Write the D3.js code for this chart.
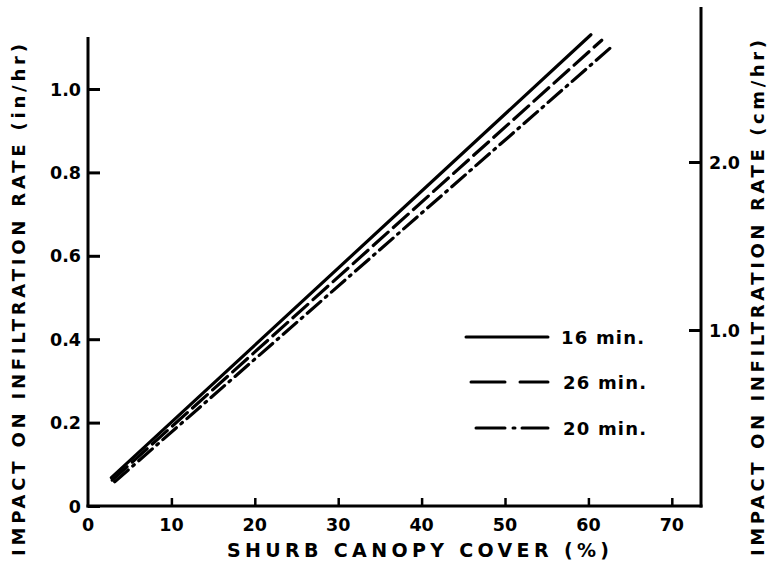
<!DOCTYPE html>
<html>
<head>
<meta charset="utf-8">
<script src="https://cdn.jsdelivr.net/npm/d3@7"></script>
<style>
  body { margin: 0; background: #fff; }
  svg { display: block; }
  text { font-family: "DejaVu Sans", sans-serif; font-weight: bold; fill: #000; }
</style>
</head>
<body>
<svg id="chart" width="778" height="564"></svg>
<script>
// Shrub canopy cover (%) at the start and end of each fitted line
const coverSolid = [2.8, 60.3];
const coverDashed = [2.9, 61.6];
const coverDashDot = [3.2, 63.0];

// Impact on infiltration rate (in/hr) at those cover values
const impact16 = [0.068, 1.13];
const impact26 = [0.062, 1.117];
const impact20 = [0.058, 1.105];

const seriesNames = ["16 min.", "26 min.", "20 min."];

const xTicks = [0, 10, 20, 30, 40, 50, 60, 70];
const yTicks = [0, 0.2, 0.4, 0.6, 0.8, 1.0];
const yTickLabels = ["0", "0.2", "0.4", "0.6", "0.8", "1.0"];
const cmTicks = [1.0, 2.0];
const cmTickLabels = ["1.0", "2.0"];

const svg = d3.select("#chart");

const x = d3.scaleLinear().domain([0, 73.5]).range([88, 701]);
const y = d3.scaleLinear().domain([0, 1]).range([506, 89]);
// secondary scale in cm/hr as drawn on the right-hand axis
const yCm = d3.scaleLinear().domain([1, 2]).range([330, 162]);

const strokeW = 3;

// left axis (in/hr)
const left = svg.append("g").attr("transform", `translate(${x(0)},0)`);
left.call(d3.axisRight(y).tickValues(yTicks).tickSize(12).tickFormat(""));
left.select(".domain").remove();
left.selectAll(".tick line").attr("stroke", "#000").attr("stroke-width", 3);
left.append("line")
  .attr("x1", 0).attr("x2", 0)
  .attr("y1", y(1.125)).attr("y2", y(0) + 1.5)
  .attr("stroke", "#000").attr("stroke-width", strokeW);
svg.append("g").selectAll("text").data(yTicks).join("text")
  .attr("x", 81).attr("y", d => y(d) + 6.5)
  .attr("text-anchor", "end")
  .attr("font-size", 17.5)
  .text((d, i) => yTickLabels[i]);

// bottom axis
const bottom = svg.append("g").attr("transform", `translate(0,${y(0)})`);
bottom.call(d3.axisTop(x).tickValues(xTicks.slice(1)).tickSize(8).tickFormat(""));
bottom.select(".domain").remove();
bottom.selectAll(".tick line").attr("stroke", "#000").attr("stroke-width", 2.5);
bottom.append("line")
  .attr("x1", x(0) - 1.5).attr("x2", x(73.5) + 1.5)
  .attr("y1", 0).attr("y2", 0)
  .attr("stroke", "#000").attr("stroke-width", strokeW);
svg.append("g").selectAll("text").data(xTicks).join("text")
  .attr("x", d => x(d)).attr("y", 531)
  .attr("text-anchor", "middle")
  .attr("font-size", 17.5)
  .text(d => d);

// right axis (cm/hr)
const right = svg.append("g").attr("transform", `translate(${x(73.5)},0)`);
right.call(d3.axisLeft(yCm).tickValues(cmTicks).tickSize(12).tickFormat(""));
right.select(".domain").remove();
right.selectAll(".tick line").attr("stroke", "#000").attr("stroke-width", 3);
right.append("line")
  .attr("x1", 0).attr("x2", 0)
  .attr("y1", 7).attr("y2", y(0) + 1.5)
  .attr("stroke", "#000").attr("stroke-width", strokeW);
svg.append("g").selectAll("text").data(cmTicks).join("text")
  .attr("x", 709).attr("y", d => yCm(d) + 6.5)
  .attr("text-anchor", "start")
  .attr("font-size", 17.5)
  .text((d, i) => cmTickLabels[i]);

// axis titles
svg.append("text")
  .attr("x", 227).attr("y", 557)
  .attr("font-size", 19)
  .attr("textLength", 382).attr("lengthAdjust", "spacing")
  .text("SHURB CANOPY COVER (%)");

svg.append("text")
  .attr("transform", "translate(25,556) rotate(-90)")
  .attr("font-size", 18)
  .attr("textLength", 512).attr("lengthAdjust", "spacing")
  .text("IMPACT ON INFILTRATION RATE (in/hr)");

svg.append("text")
  .attr("transform", "translate(764,556) rotate(-90)")
  .attr("font-size", 18)
  .attr("textLength", 516).attr("lengthAdjust", "spacing")
  .text("IMPACT ON INFILTRATION RATE (cm/hr)");

// fitted lines
const series = [
  { name: seriesNames[0], xs: coverSolid, ys: impact16, dash: null },
  { name: seriesNames[1], xs: coverDashed, ys: impact26, dash: "20 7" },
  { name: seriesNames[2], xs: coverDashDot, ys: impact20, dash: "18 6 2 6" }
];

const line = d3.line().x(d => x(d[0])).y(d => y(d[1]));

svg.append("g").selectAll("path").data(series).join("path")
  .attr("d", s => line(s.xs.map((v, i) => [v, s.ys[i]])))
  .attr("fill", "none")
  .attr("stroke", "#000")
  .attr("stroke-width", 3.2)
  .attr("stroke-linecap", "round")
  .attr("stroke-dasharray", s => s.dash);

// legend
const legendRows = [
  { y: 337, x1: 466, dash: null },
  { y: 382, x1: 471, dash: "34 15 28" },
  { y: 428, x1: 476, dash: "29 8 2 7 27" }
];
const legend = svg.append("g");
legend.selectAll("line").data(series).join("line")
  .attr("x1", (d, i) => legendRows[i].x1).attr("x2", 548)
  .attr("y1", (d, i) => legendRows[i].y).attr("y2", (d, i) => legendRows[i].y)
  .attr("stroke", "#000").attr("stroke-width", 3)
  .attr("stroke-linecap", "round")
  .attr("stroke-dasharray", (d, i) => legendRows[i].dash);
legend.selectAll("text").data(series).join("text")
  .attr("x", (d, i) => i === 0 ? 561 : 563)
  .attr("y", (d, i) => legendRows[i].y + 7)
  .attr("font-size", 18)
  .attr("letter-spacing", 1.2)
  .text(d => d.name);
</script>
</body>
</html>
